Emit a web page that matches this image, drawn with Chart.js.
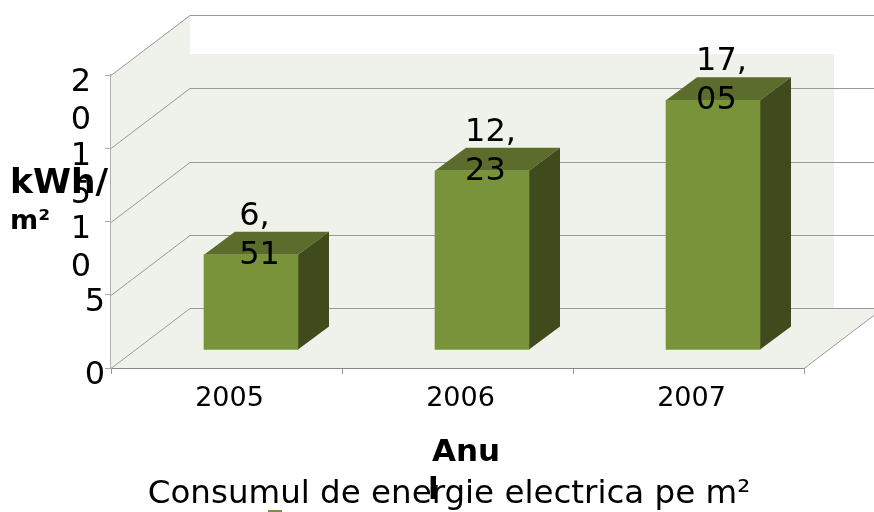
<!DOCTYPE html>
<html><head><meta charset="utf-8">
<style>html,body{margin:0;padding:0;background:#fff}canvas{display:block}</style>
<script src="https://cdn.jsdelivr.net/npm/chart.js@4"></script></head>
<body><canvas id="c" width="874" height="512"></canvas>
<script>
const categories = ['2005', '2006', '2007'];
const seriesName = 'Consumul de energie electrica pe m²';
const values = [6.51, 12.23, 17.05];
const yTickLabels = ['0', '5', ['1', '0'], ['1', '5'], ['2', '0']];
const yTitleLines = ['kWh/', 'm²'];
const xTitleLines = ['Anu', 'l'];

const FONT = '"DejaVu Sans"';
const WALL = '#eff2ea', GRID = '#999999';
const BAR_FRONT = '#78933a', BAR_TOP = '#5b6c2c', BAR_SIDE = '#3f4a1d';
const WALL_D = {x: 79, y: -60};   // depth of the floor
const BAR_OFF = {x: 24.5, y: -18};  // bar position inside the floor
const BAR_D = {x: 31, y: -23};    // depth of a bar

function poly(ctx, pts, fill) {
  ctx.beginPath();
  pts.forEach((p, i) => i ? ctx.lineTo(p[0], p[1]) : ctx.moveTo(p[0], p[1]));
  ctx.closePath(); ctx.fillStyle = fill; ctx.fill();
}

const threeD = {
  id: 'threeD',
  afterUpdate(chart) {
    const ys = chart.scales.y, orig = ys.getLabelItems.bind(ys);
    ys._computeLabelArea = () => undefined;
    ys.getLabelItems = function (area) {
      const items = orig(area);
      if (!items._moved) {
        items.forEach(it => {
          const multi = Array.isArray(it.label);
          it.options.translation[1] += 8;
          if (multi) { it.textOffset = 0; it.options.translation[0] -= 14; }
        });
        items._moved = true;
      }
      return items;
    };
  },
  beforeDatasetsDraw(chart) {
    const {ctx, scales: {x, y}} = chart;
    const L = x.left, R = x.right, T = y.getPixelForValue(20), B = y.getPixelForValue(0);
    const bx = L + WALL_D.x, by = B + WALL_D.y;
    ctx.save();
    ctx.fillStyle = WALL;
    ctx.fillRect(bx, 54, 644, by - 54);
    poly(ctx, [[L, T], [bx, T + WALL_D.y], [bx, by], [L, B]], WALL);
    poly(ctx, [[L, B], [bx, by], [R + WALL_D.x, by], [R, B]], WALL);
    ctx.strokeStyle = GRID; ctx.lineWidth = 1;
    y.ticks.forEach(t => {
      const py = Math.round(y.getPixelForValue(t.value)) + .5;
      ctx.beginPath();
      ctx.moveTo(L, py); ctx.lineTo(bx, py + WALL_D.y); ctx.lineTo(874, py + WALL_D.y);
      ctx.stroke();
    });
    ctx.beginPath();
    ctx.moveTo(R, B + .5); ctx.lineTo(R + WALL_D.x, by + .5);
    ctx.stroke();
    ctx.restore();
  },
  beforeDatasetDraw(chart, args) {
    const ctx = chart.ctx;
    ctx.save();
    ctx.translate(BAR_OFF.x, BAR_OFF.y);
    chart.getDatasetMeta(args.index).data.forEach(b => {
      const l = b.x - b.width / 2, r = b.x + b.width / 2, t = b.y, g = b.base;
      poly(ctx, [[l, t], [l + BAR_D.x, t + BAR_D.y], [r + BAR_D.x, t + BAR_D.y], [r, t]], BAR_TOP);
      poly(ctx, [[r, t], [r + BAR_D.x, t + BAR_D.y], [r + BAR_D.x, g + BAR_D.y], [r, g]], BAR_SIDE);
    });
  },
  afterDatasetDraw(chart) { chart.ctx.restore(); },
  afterDraw(chart) {
    const ctx = chart.ctx;
    ctx.save();
    ctx.fillStyle = '#000';
    ctx.textAlign = 'left'; ctx.textBaseline = 'alphabetic';
    // data labels, broken after the comma
    ctx.font = '32px ' + FONT;
    chart.getDatasetMeta(0).data.forEach((b, i) => {
      const parts = values[i].toFixed(2).replace('.', ',').split(',');
      const lines = [parts[0] + ',', parts[1]];
      const w = Math.max(...lines.map(s => ctx.measureText(s).width));
      const lx = b.x + BAR_OFF.x + 8.5 - w / 2;
      ctx.fillText(lines[0], lx, b.y - 48);
      ctx.fillText(lines[1], lx, b.y - 9);
    });
    // axis titles
    ctx.font = 'bold 34.5px ' + FONT;
    ctx.fillText(yTitleLines[0], 10, 193);
    ctx.font = 'bold 27px ' + FONT;
    ctx.fillText(yTitleLines[1], 10, 229);
    ctx.font = 'bold 31px ' + FONT;
    ctx.fillText(xTitleLines[0], 432, 461);
    ctx.fillText(xTitleLines[1], 428, 499);
    // clipped legend key
    ctx.fillStyle = BAR_FRONT;
    ctx.fillRect(268, 510, 14, 2);
    ctx.restore();
  }
};

new Chart(document.getElementById('c'), {
  type: 'bar',
  plugins: [threeD],
  data: {
    labels: categories,
    datasets: [{
      label: seriesName, data: values, backgroundColor: BAR_FRONT,
      barThickness: 94, borderWidth: 0, clip: false
    }]
  },
  options: {
    responsive: false, animation: false,
    events: [],
    layout: {padding: {left: 94, right: 70, top: 75, bottom: 0}},
    plugins: {
      legend: {display: false}, tooltip: {enabled: false},
      title: {
        display: true, text: seriesName, position: 'bottom', color: '#000',
        font: {family: FONT, size: 32.5, weight: 'normal', lineHeight: 1.1}, padding: 0
      }
    },
    scales: {
      x: {
        afterFit(s) { s.height = 108.25; s.paddingLeft = s.paddingRight = 0; },
        grid: {drawOnChartArea: false, tickLength: 6, color: '#999999'},
        border: {color: '#888888', width: 1},
        ticks: {
          color: '#000', padding: 9, labelOffset: 3, maxRotation: 0, autoSkip: false,
          font: {family: FONT, size: 27}
        }
      },
      y: {
        min: 0, max: 20,
        afterFit(s) { s.width = 17; s.paddingTop = s.paddingBottom = 0; },
        grid: {drawOnChartArea: false, tickLength: 6, color: '#aaaaaa'},
        border: {color: '#b0b0b0', width: 2},
        ticks: {
          stepSize: 5, color: '#000', padding: 0, autoSkip: false,
          font: {family: FONT, size: 32, lineHeight: 1.19},
          callback: (v, i) => yTickLabels[i]
        }
      }
    }
  }
});
</script></body></html>
